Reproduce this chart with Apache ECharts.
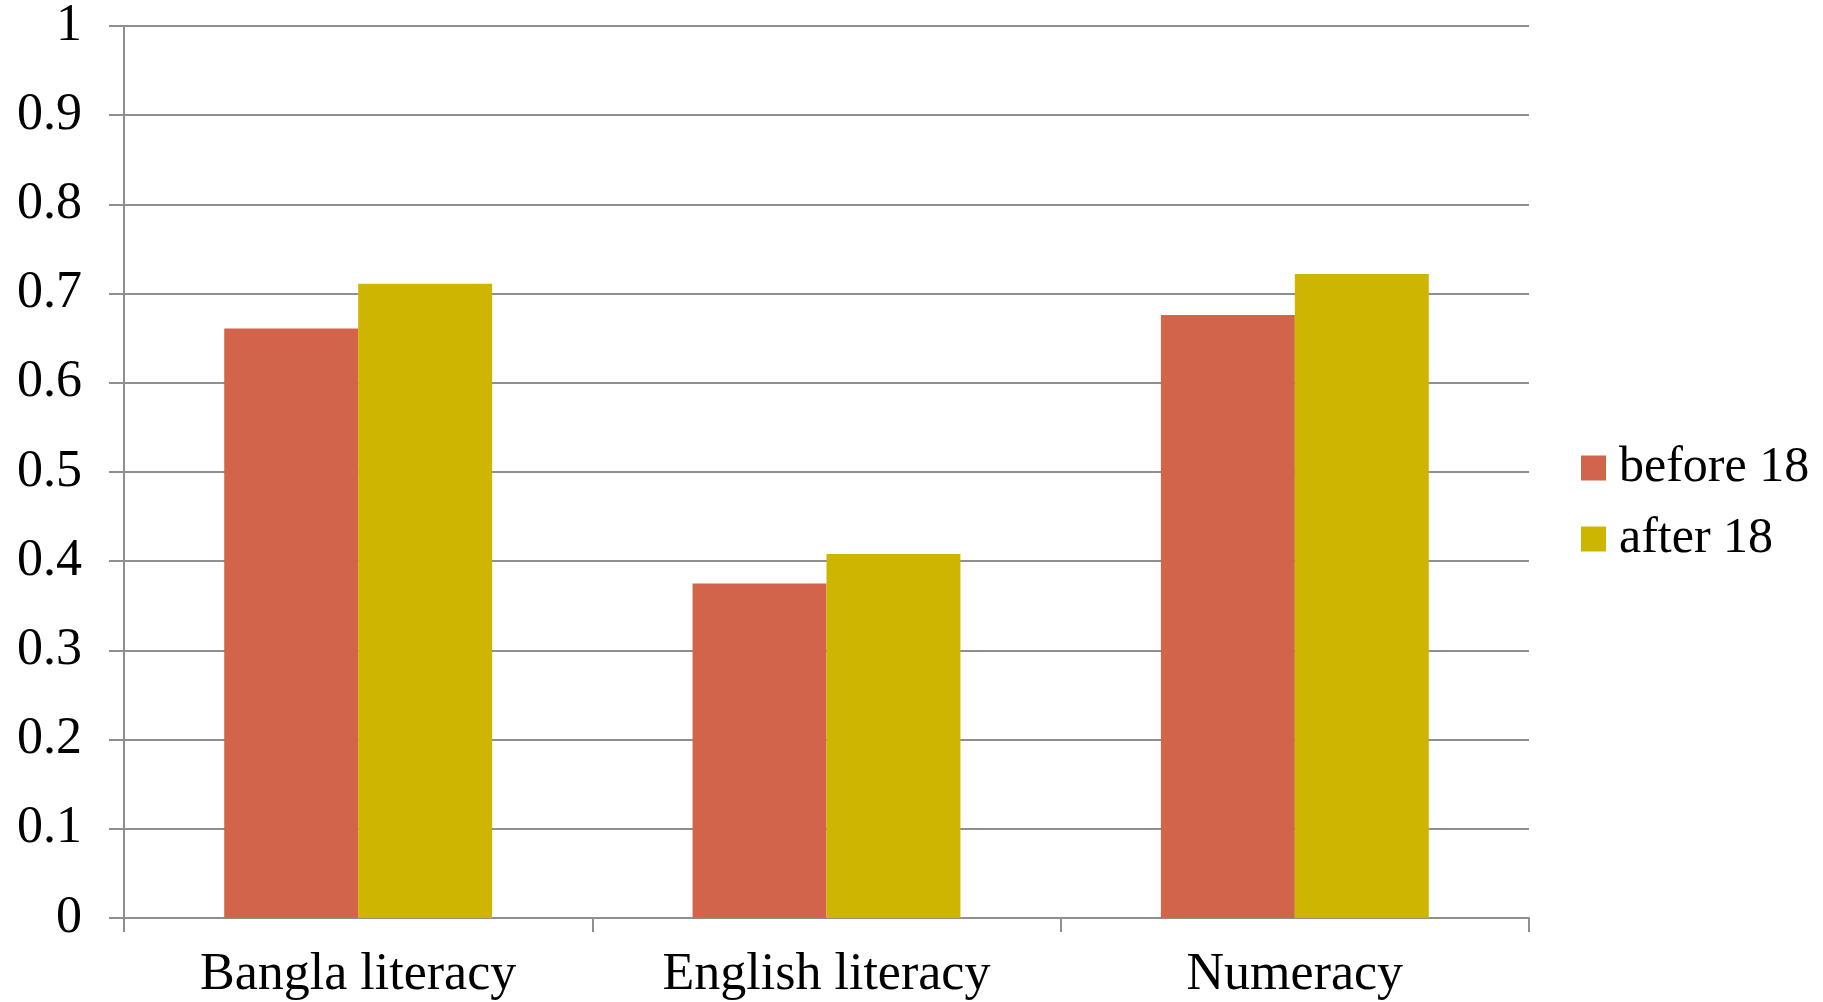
<!DOCTYPE html>
<html>
<head>
<meta charset="utf-8">
<title>Literacy and numeracy: before vs after 18</title>
<script src="https://cdn.jsdelivr.net/npm/echarts@6/dist/echarts.min.js"></script>
<style>
  html, body { margin: 0; padding: 0; background: #ffffff; }
  #chart { width: 1823px; height: 1002px; }
</style>
</head>
<body>
<div id="chart"></div>
<script>
// Skill categories along the x axis
const categories = ['Bangla literacy', 'English literacy', 'Numeracy'];

// Share of respondents, by age at marriage
const before18 = [0.661, 0.375, 0.676];
const after18 = [0.711, 0.408, 0.722];

const seriesNames = ['before 18', 'after 18'];
const seriesColors = ['#D2644A', '#CEB600'];

const FONT = '"Liberation Serif", "DejaVu Serif", serif';
const GRID_GREY = '#8f8f8f';

const chart = echarts.init(document.getElementById('chart'), null, { renderer: 'canvas' });

chart.setOption({
  animation: false,
  backgroundColor: '#ffffff',
  textStyle: { fontFamily: FONT, color: '#000000' },
  grid: { left: 124, right: 294, top: 19, bottom: 84, containLabel: false },
  legend: {
    orient: 'vertical',
    left: 1576,
    top: 438,
    itemWidth: 25,
    itemHeight: 25,
    itemGap: 21,
    icon: 'rect',
    data: seriesNames,
    textStyle: {
      fontFamily: FONT,
      fontSize: 50,
      color: '#000000',
      lineHeight: 50,
      padding: [0, 0, 0, 8]
    }
  },
  xAxis: {
    type: 'category',
    data: categories,
    boundaryGap: true,
    axisLine: { show: true, lineStyle: { color: GRID_GREY, width: 2 } },
    axisTick: { show: true, length: 14, lineStyle: { color: GRID_GREY, width: 2 } },
    axisLabel: {
      fontFamily: FONT,
      fontSize: 52,
      color: '#000000',
      margin: 31,
      lineHeight: 52
    },
    splitLine: { show: false }
  },
  yAxis: {
    type: 'value',
    min: 0,
    max: 1,
    interval: 0.1,
    axisLine: { show: true, lineStyle: { color: GRID_GREY, width: 2 } },
    axisTick: { show: true, length: 15, lineStyle: { color: GRID_GREY, width: 2 } },
    axisLabel: {
      fontFamily: FONT,
      fontSize: 52,
      color: '#000000',
      margin: 42,
      formatter: function (v) { return String(Math.round(v * 10) / 10); }
    },
    splitLine: { show: true, lineStyle: { color: GRID_GREY, width: 2 } }
  },
  series: [
    {
      name: seriesNames[0],
      type: 'bar',
      data: before18,
      barGap: '0%',
      barCategoryGap: '42.8%',
      itemStyle: { color: seriesColors[0] }
    },
    {
      name: seriesNames[1],
      type: 'bar',
      data: after18,
      barGap: '0%',
      barCategoryGap: '42.8%',
      itemStyle: { color: seriesColors[1] }
    }
  ]
});
</script>
</body>
</html>
